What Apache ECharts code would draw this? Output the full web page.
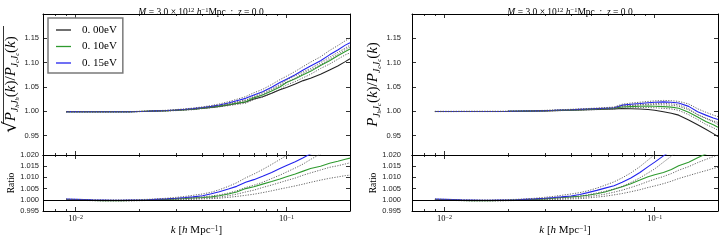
<!DOCTYPE html>
<html><head><meta charset="utf-8">
<script src="https://cdn.jsdelivr.net/npm/echarts@6/dist/echarts.min.js"></script>
<style>html,body{margin:0;padding:0;background:#fff}#c{width:723px;height:242px}</style>
</head><body><div id="c"></div>
<script>
// ---------------- data ----------------
const k = [0.009,0.010,0.011,0.012,0.0135,0.015,0.0165,0.018,0.020,0.022,0.024,0.027,0.030,0.033,0.036,0.040,0.044,0.048,0.053,0.058,0.064,0.070,0.077,0.085,0.093,0.100,0.110,0.120,0.130,0.145,0.160,0.175,0.190,0.200];
const legendNames = ['0. 00eV','0. 10eV','0. 15eV'];
const xMajorTicks = [0.01, 0.1];
const xMinorTicks = [0.008,0.009,0.02,0.03,0.04,0.05,0.06,0.07,0.08,0.09];
const yUpperTicks = [0.95,1.00,1.05,1.10,1.15];
const yRatioTicks = [0.995,1.000,1.005,1.010,1.015,1.020];

// left upper: sqrt(P_hh/P_cc)
const autoBlack = [0.999,0.999,0.999,0.999,0.999,0.999,0.999,0.999,0.9995,1.000,1.0005,1.001,1.002,1.003,1.004,1.006,1.008,1.010,1.013,1.016,1.019,1.025,1.030,1.037,1.044,1.049,1.056,1.063,1.068,1.076,1.085,1.093,1.102,1.108];
const autoGreen = [0.999,0.999,0.999,0.999,0.999,0.999,0.999,0.999,0.9995,1.000,1.0005,1.001,1.002,1.003,1.004,1.0065,1.0085,1.0105,1.0135,1.0165,1.0195,1.0275,1.0335,1.0415,1.050,1.059,1.067,1.075,1.082,1.094,1.104,1.114,1.123,1.128];
const autoBlue = [0.9993,0.9992,0.9991,0.999,0.999,0.999,0.999,0.999,0.9995,1.000,1.0007,1.0014,1.0027,1.004,1.0053,1.0077,1.010,1.013,1.017,1.0215,1.0265,1.0335,1.040,1.0495,1.059,1.066,1.075,1.085,1.093,1.104,1.116,1.126,1.136,1.141];
const autoBlueHi = [0.9995,0.9994,0.9993,0.9992,0.9992,0.9992,0.9992,0.9993,0.9998,1.0004,1.0012,1.002,1.0035,1.005,1.0065,1.009,1.0118,1.015,1.0195,1.0245,1.030,1.038,1.045,1.055,1.065,1.072,1.082,1.092,1.101,1.112,1.125,1.135,1.145,1.151];
const autoBlueLo = [0.9991,0.999,0.9989,0.9988,0.9988,0.9988,0.9988,0.9988,0.9992,0.9996,1.0002,1.0008,1.002,1.003,1.0042,1.0064,1.0083,1.011,1.0145,1.0185,1.023,1.029,1.035,1.044,1.053,1.060,1.068,1.078,1.085,1.096,1.107,1.117,1.127,1.132];
const autoGreenHi = [0.9992,0.9992,0.9992,0.9992,0.9992,0.9992,0.9992,0.9992,0.9997,1.0003,1.0009,1.0015,1.0027,1.0038,1.0049,1.0075,1.0098,1.012,1.0155,1.019,1.0225,1.031,1.038,1.046,1.055,1.064,1.073,1.081,1.088,1.100,1.111,1.121,1.130,1.136];
const autoGreenLo = [0.9988,0.9988,0.9988,0.9988,0.9988,0.9988,0.9988,0.9988,0.9993,0.9997,1.0001,1.0005,1.0013,1.0022,1.0031,1.0055,1.0072,1.009,1.0115,1.014,1.0165,1.024,1.029,1.037,1.045,1.054,1.061,1.069,1.076,1.088,1.097,1.107,1.116,1.120];

// left lower: ratio
const autoRatioBlue = [1.0003,1.0002,1.0001,1.0,0.9999,0.9998,0.9998,0.9999,0.9999,1.0,1.0002,1.0004,1.0007,1.001,1.0013,1.0018,1.0027,1.0036,1.0048,1.006,1.0078,1.009,1.0105,1.0122,1.014,1.0153,1.017,1.0188,1.0205,1.0225,1.0245,1.026,1.028,1.029];
const autoRatioGreen = [1.0,0.9999,0.9998,0.9997,0.9996,0.9996,0.9996,0.9997,0.9998,0.9999,1.0,1.0002,1.0004,1.0006,1.0008,1.001,1.0013,1.0018,1.0026,1.0035,1.005,1.0058,1.007,1.0082,1.0093,1.0103,1.0115,1.0128,1.014,1.015,1.0163,1.0172,1.0181,1.0186];
const autoRatioA = [1.0003,1.0002,1.0001,1.0,0.9999,0.9999,0.9999,1.0,1.0001,1.0002,1.0004,1.0007,1.0011,1.0015,1.002,1.0026,1.0034,1.0045,1.006,1.0076,1.0098,1.0115,1.0135,1.0158,1.018,1.0198,1.022,1.024,1.026,1.029,1.032,1.034,1.036,1.037];
const autoRatioB = [1.0002,1.0001,1.0,0.9999,0.9998,0.9998,0.9998,0.9998,0.9999,1.0,1.0001,1.0003,1.0005,1.0007,1.001,1.0013,1.0017,1.0022,1.003,1.004,1.0055,1.0065,1.0078,1.0095,1.011,1.0124,1.0142,1.016,1.018,1.0205,1.0222,1.0235,1.0248,1.0255];
const autoRatioC = [1.0,0.9999,0.9998,0.9997,0.9996,0.9996,0.9996,0.9996,0.9997,0.9998,0.9999,1.0001,1.0002,1.0004,1.0005,1.0007,1.0009,1.0012,1.0018,1.0025,1.0035,1.0043,1.0055,1.0066,1.0077,1.0086,1.0097,1.011,1.012,1.0133,1.0145,1.0152,1.016,1.0165];
const autoRatioD = [0.9999,0.9998,0.9997,0.9996,0.9995,0.9995,0.9995,0.9995,0.9996,0.9997,0.9998,0.9999,1.0,1.0001,1.0002,1.0004,1.0005,1.0007,1.0011,1.0015,1.002,1.0025,1.0032,1.004,1.0048,1.0054,1.0062,1.007,1.0078,1.0088,1.0096,1.0102,1.0108,1.011];

// right upper: P_hc/P_cc
const crossBlack = [0.9995,0.9995,0.9995,0.9996,0.9996,0.9996,0.9996,0.9996,0.9997,0.9999,1.0001,1.0004,1.0008,1.0012,1.0016,1.002,1.0025,1.003,1.0036,1.0042,1.0048,1.0055,1.0052,1.0045,1.0035,1.002,0.999,0.996,0.992,0.982,0.972,0.963,0.954,0.948];
const crossGreen = [0.9995,0.9995,0.9995,0.9996,0.9996,0.9996,0.9996,0.9996,0.9997,1.0,1.0002,1.0006,1.001,1.0015,1.002,1.0026,1.0032,1.0038,1.0045,1.0052,1.006,1.0088,1.0095,1.0102,1.0105,1.0104,1.0095,1.0085,1.006,0.998,0.988,0.979,0.972,0.967];
const crossBlue = [0.9995,0.9995,0.9995,0.9996,0.9996,0.9996,0.9996,0.9996,0.9997,1.0001,1.0004,1.0008,1.0013,1.0019,1.0025,1.0032,1.0039,1.0046,1.0054,1.0062,1.0071,1.0125,1.0145,1.016,1.0175,1.0185,1.0192,1.0185,1.0168,1.010,0.999,0.992,0.986,0.983];
const crossBlueHi = [0.9997,0.9997,0.9997,0.9998,0.9998,0.9998,0.9998,0.9998,0.9999,1.0003,1.0007,1.0012,1.0018,1.0025,1.0032,1.004,1.0048,1.0056,1.0065,1.0075,1.0086,1.0145,1.0168,1.0185,1.0202,1.0213,1.0222,1.0218,1.0203,1.015,1.005,0.998,0.992,0.989];
const crossBlueLo = [0.9993,0.9993,0.9993,0.9994,0.9994,0.9994,0.9994,0.9994,0.9995,0.9999,1.0001,1.0004,1.0008,1.0013,1.0018,1.0024,1.003,1.0036,1.0043,1.0049,1.0056,1.0105,1.0122,1.0135,1.0148,1.0157,1.0162,1.0152,1.0133,1.005,0.993,0.986,0.980,0.977];
const crossGreenHi = [0.9997,0.9997,0.9997,0.9998,0.9998,0.9998,0.9998,0.9998,0.9999,1.0002,1.0005,1.001,1.0015,1.0021,1.0027,1.0034,1.0041,1.0048,1.0057,1.0066,1.0076,1.0108,1.0118,1.0128,1.0134,1.0136,1.0131,1.0123,1.0102,1.003,0.993,0.985,0.978,0.973];
const crossGreenLo = [0.9993,0.9993,0.9993,0.9994,0.9994,0.9994,0.9994,0.9994,0.9995,0.9998,0.9999,1.0002,1.0005,1.0009,1.0013,1.0018,1.0023,1.0028,1.0033,1.0038,1.0044,1.0068,1.0072,1.0076,1.0076,1.0072,1.0059,1.0047,1.0018,0.993,0.983,0.973,0.966,0.961];

// right lower: ratio
const crossRatioBlue = [1.0003,1.0002,1.0001,1.0,0.9999,0.9998,0.9998,0.9999,0.9999,1.0,1.0002,1.0004,1.0007,1.001,1.0013,1.0017,1.0024,1.0032,1.0042,1.0052,1.0063,1.0078,1.0097,1.0122,1.0148,1.0168,1.0196,1.022,1.025,1.028,1.030,1.032,1.034,1.035];
const crossRatioGreen = [1.0,0.9999,0.9998,0.9997,0.9996,0.9996,0.9996,0.9997,0.9998,0.9999,1.0,1.0002,1.0004,1.0007,1.001,1.0013,1.0016,1.002,1.0027,1.0035,1.0047,1.0058,1.0072,1.0088,1.0103,1.0112,1.0122,1.0135,1.0152,1.0168,1.0188,1.0205,1.022,1.0228];
const crossRatioA = [1.0003,1.0002,1.0001,1.0,0.9999,0.9999,0.9999,1.0,1.0001,1.0002,1.0004,1.0007,1.0011,1.0015,1.002,1.0026,1.0032,1.004,1.0052,1.0065,1.008,1.0098,1.012,1.0148,1.0178,1.0202,1.024,1.027,1.03,1.033,1.036,1.038,1.04,1.041];
const crossRatioB = [1.0002,1.0001,1.0,0.9999,0.9998,0.9998,0.9998,0.9998,0.9999,1.0,1.0001,1.0003,1.0005,1.0007,1.001,1.0013,1.0017,1.0022,1.003,1.0038,1.0048,1.006,1.0077,1.0098,1.012,1.0138,1.0168,1.0195,1.022,1.025,1.027,1.029,1.03,1.031];
const crossRatioC = [1.0,0.9999,0.9998,0.9997,0.9996,0.9996,0.9996,0.9996,0.9997,0.9998,0.9999,1.0001,1.0002,1.0004,1.0006,1.0008,1.001,1.0014,1.0019,1.0025,1.0034,1.0043,1.0055,1.0068,1.0082,1.0092,1.0104,1.0117,1.0132,1.0148,1.0166,1.018,1.0193,1.020];
const crossRatioD = [0.9999,0.9998,0.9997,0.9996,0.9995,0.9995,0.9995,0.9995,0.9996,0.9997,0.9998,0.9999,1.0,1.0001,1.0002,1.0004,1.0005,1.0008,1.0012,1.0016,1.0022,1.0028,1.0036,1.0045,1.0055,1.0062,1.0072,1.0083,1.0095,1.0108,1.012,1.013,1.014,1.0145];

// ---------------- styling ----------------
const SANS = 'Liberation Sans';
const SERIF = 'Liberation Serif';
const C_BLACK = '#222222', C_GREEN = '#2e9a2e', C_BLUE = '#2222ee', C_DOT = '#555555';
const X_MIN = 0.007, X_MAX = 0.2;

const grids = [
  {left:43, top:14, width:307, height:141},
  {left:43, top:155, width:307, height:56},
  {left:412, top:14, width:306, height:141},
  {left:412, top:155, width:306, height:56}
];

const richMath = {
  n:{fontFamily:SERIF, fontSize:11, color:'#000'},
  i:{fontFamily:SERIF, fontSize:11, fontStyle:'italic', color:'#000'},
  sup:{fontFamily:SERIF, fontSize:7.5, color:'#000', verticalAlign:'top', lineHeight:8}
};
const xName = '{i|k}{n| [}{i|h}{n| Mpc}{sup|−1}{n|]}';

function xAxes(gi, showLabels) {
  const base = {type:'log', logBase:10, gridIndex:gi, min:X_MIN, max:X_MAX, silent:true,
    splitLine:{show:false}, minorTick:{show:false}, minorSplitLine:{show:false}};
  const mk = (pos, ticks, len, line, labels) => Object.assign({}, base, {
    position:pos,
    axisLine:{show:line, onZero:false, lineStyle:{color:'#000', width:1}},
    axisTick:{show:true, inside:true, length:len, customValues:ticks, lineStyle:{color:'#000', width:0.8}},
    axisLabel:labels ? {show:true, customValues:ticks, margin:3,
      formatter:v => { const e = Math.round(Math.log10(v)); return '{b|10}{s|' + (e < 0 ? '−' : '') + Math.abs(e) + '}'; },
      rich:{b:{fontFamily:SERIF, fontSize:8.5, color:'#000'}, s:{fontFamily:SERIF, fontSize:6, color:'#000', verticalAlign:'top', lineHeight:6}}
    } : {show:false},
    name: labels ? xName : '', nameLocation:'middle', nameGap:14,
    nameTextStyle:{rich:richMath}
  });
  return [
    mk('bottom', xMajorTicks, 4, true, showLabels),
    mk('bottom', xMinorTicks, 2, false, false),
    mk('top', xMajorTicks, 4, true, false),
    mk('top', xMinorTicks, 2, false, false)
  ];
}

function yAxes(gi, upper, margin, name, gap, nameStyle) {
  const ticks = upper ? yUpperTicks : yRatioTicks;
  const base = {type:'value', gridIndex:gi, min: upper ? 0.91 : 0.995, max: upper ? 1.2 : 1.02, silent:true,
    splitLine:{show:false}, scale:true};
  return [
    Object.assign({}, base, {position:'left',
      axisLine:{show:true, onZero:false, lineStyle:{color:'#000', width:1}},
      axisTick:{show:true, inside:true, length:4, customValues:ticks, lineStyle:{color:'#000', width:0.8}},
      axisLabel:{show:true, customValues:ticks, margin:margin, fontFamily:SANS, fontSize:7.5, color:'#222',
        formatter: v => v.toFixed(upper ? 2 : 3)},
      name:name, nameLocation:'middle', nameRotate:90, nameGap:gap, nameTextStyle:nameStyle}),
    Object.assign({}, base, {position:'right',
      axisLine:{show:true, onZero:false, lineStyle:{color:'#000', width:1}},
      axisTick:{show:true, inside:true, length:4, customValues:ticks, lineStyle:{color:'#000', width:0.8}},
      axisLabel:{show:false}})
  ];
}

const pRich = {
  P:{fontFamily:SERIF, fontSize:15, fontStyle:'italic', color:'#000', lineHeight:19},
  n:{fontFamily:SERIF, fontSize:15, color:'#000', lineHeight:19},
  r:{fontFamily:'DejaVu Sans', fontSize:18, color:'#000', lineHeight:19},
  s1:{fontFamily:SERIF, fontSize:9.5, fontStyle:'italic', color:'#000', verticalAlign:'bottom', lineHeight:11},
  s2:{fontFamily:SERIF, fontSize:6.5, fontStyle:'italic', color:'#000', verticalAlign:'bottom', lineHeight:7}
};
const leftUpperName = '{r|√}{P|P}{s1|J}{s2|h}{s1|J}{s2|h}{n|(}{P|k}{n|)/}{P|P}{s1|J}{s2|c}{s1|J}{s2|c}{n|(}{P|k}{n|)}';
const rightUpperName = '{P|P}{s1|J}{s2|h}{s1|J}{s2|c}{n|(}{P|k}{n|)/}{P|P}{s1|J}{s2|c}{s1|J}{s2|c}{n|(}{P|k}{n|)}';
const ratioStyle = {fontFamily:SERIF, fontSize:9.5, color:'#000'};

function line(name, xi, yi, data, color, dotted) {
  return {name:name, type:'line', xAxisIndex:xi, yAxisIndex:yi, showSymbol:false, symbol:'none',
    animation:false, clip:true, silent:true,
    data:k.map((kv, i) => [kv, data[i]]),
    lineStyle:{color:color, width:dotted ? 0.9 : 1.1, type:dotted ? [1.2,1.4] : 'solid'},
    itemStyle:{color:color}, z: dotted ? 3 : 2};
}

function upperSeries(gi, blk, grn, blu, bHi, bLo, gHi, gLo) {
  const xi = gi*4, yi = gi*2;
  return [
    line(legendNames[0], xi, yi, blk, C_BLACK, false),
    line(legendNames[1], xi, yi, grn, C_GREEN, false),
    line(legendNames[2], xi, yi, blu, C_BLUE, false),
    line('band', xi, yi, bHi, C_DOT, true),
    line('band', xi, yi, bLo, C_DOT, true),
    line('band', xi, yi, gHi, C_DOT, true),
    line('band', xi, yi, gLo, C_DOT, true)
  ];
}
function ratioSeries(gi, grn, blu, a, b, c, d) {
  const xi = gi*4, yi = gi*2;
  const g = line('ratio', xi, yi, grn, C_GREEN, false);
  g.markLine = {silent:true, symbol:'none', animation:false, label:{show:false},
    lineStyle:{color:'#000', width:1, type:'solid'}, data:[{yAxis:1.0}]};
  return [
    g,
    line('ratio', xi, yi, blu, C_BLUE, false),
    line('band', xi, yi, a, C_DOT, true),
    line('band', xi, yi, b, C_DOT, true),
    line('band', xi, yi, c, C_DOT, true),
    line('band', xi, yi, d, C_DOT, true)
  ];
}

const titleText = '{i|M}{n| = 3.0 × 10}{sup|12}{i| h}{sup|−1}{n|Mpc  :  }{i|z}{n| = 0.0}';
const titleRich = {
  n:{fontFamily:SERIF, fontSize:9.5, fontWeight:'normal', color:'#000'},
  i:{fontFamily:SERIF, fontSize:9.5, fontStyle:'italic', fontWeight:'normal', color:'#000'},
  sup:{fontFamily:SERIF, fontSize:6.5, fontWeight:'normal', color:'#000', verticalAlign:'top', lineHeight:6}
};

const option = {
  backgroundColor:'#fff',
  animation:false,
  title:[
    {text:titleText, left:196, top:2, textAlign:'center', textStyle:{fontWeight:'normal', rich:titleRich}},
    {text:titleText, left:565, top:2, textAlign:'center', textStyle:{fontWeight:'normal', rich:titleRich}}
  ],
  grid:grids,
  xAxis:[].concat(xAxes(0,false), xAxes(1,true), xAxes(2,false), xAxes(3,true)),
  yAxis:[].concat(
    yAxes(0, true, 4, leftUpperName, 22, {rich:pRich}),
    yAxes(1, false, 4, 'Ratio', 25, ratioStyle),
    yAxes(2, true, 11, rightUpperName, 27, {rich:pRich}),
    yAxes(3, false, 11, 'Ratio', 27, ratioStyle)
  ),
  legend:{data:legendNames, orient:'vertical', left:48, top:18, icon:'rect', itemWidth:15, itemHeight:1.3,
    itemGap:4.5, padding:[6,6,4,8], borderColor:'#7a7a7a', borderWidth:1.5, backgroundColor:'#fff',
    selectedMode:false,
    textStyle:{fontFamily:SERIF, fontSize:11, color:'#000', lineHeight:12, padding:[0,0,0,6]}},
  graphic:[
    {type:'line', shape:{x1:3.5, y1:26, x2:3.5, y2:124}, style:{stroke:'#000', lineWidth:0.8}, silent:true}
  ],
  series:[].concat(
    upperSeries(0, autoBlack, autoGreen, autoBlue, autoBlueHi, autoBlueLo, autoGreenHi, autoGreenLo),
    ratioSeries(1, autoRatioGreen, autoRatioBlue, autoRatioA, autoRatioB, autoRatioC, autoRatioD),
    upperSeries(2, crossBlack, crossGreen, crossBlue, crossBlueHi, crossBlueLo, crossGreenHi, crossGreenLo),
    ratioSeries(3, crossRatioGreen, crossRatioBlue, crossRatioA, crossRatioB, crossRatioC, crossRatioD)
  )
};
const chart = echarts.init(document.getElementById('c'), null, {renderer:'canvas'});
chart.setOption(option);
</script>
</body></html>
